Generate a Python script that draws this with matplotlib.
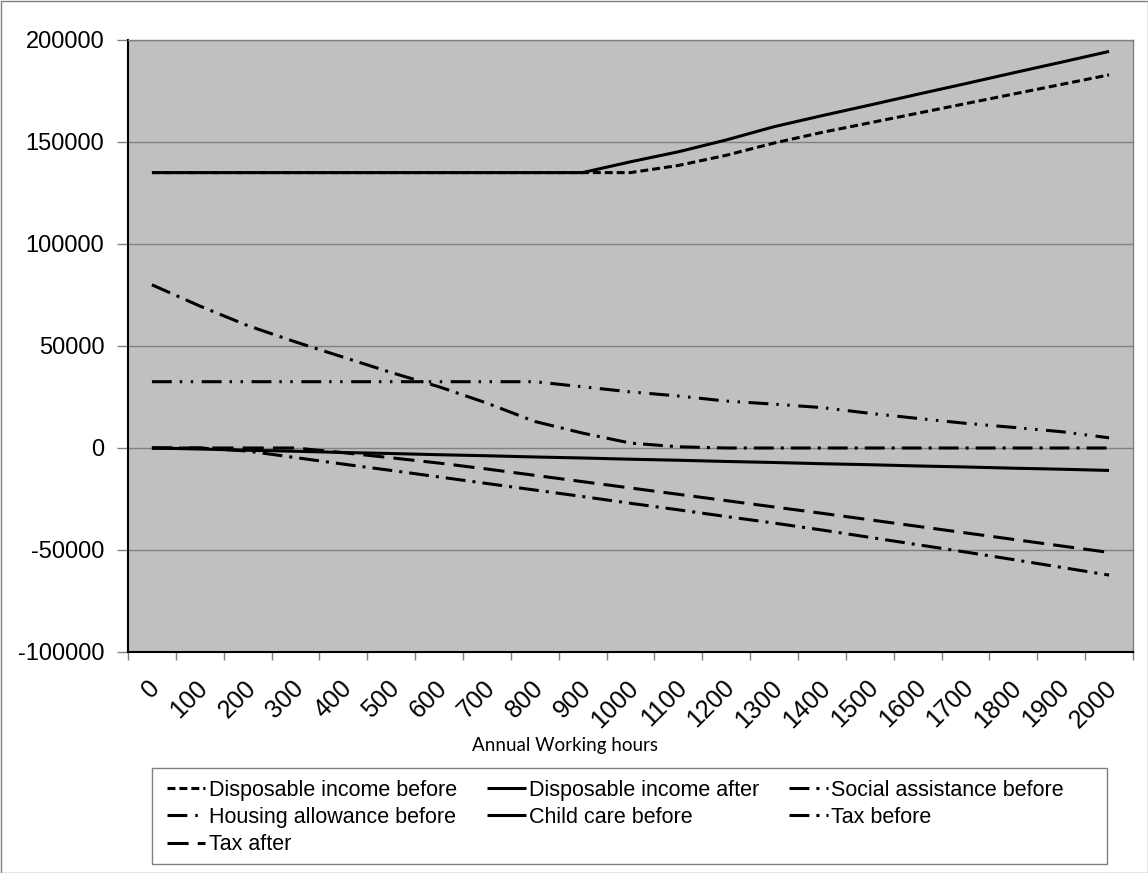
import matplotlib
matplotlib.use("Agg")
import matplotlib.pyplot as plt
from matplotlib.patches import Rectangle
from matplotlib.transforms import ScaledTranslation

plt.rcParams['font.family'] = ['Liberation Sans', 'DejaVu Sans']

# hours on the x axis (categories)
hours = [0, 100, 200, 300, 400, 500, 600, 700, 800, 900, 1000,
         1100, 1200, 1300, 1400, 1500, 1600, 1700, 1800, 1900, 2000]

disp_before = [135000, 135000, 135000, 135000, 135000, 135000, 135000, 135000, 135000, 135000, 135000,
               138500, 143500, 149500, 154700, 159400, 164100, 168800, 173500, 178200, 182900]
disp_after = [135000, 135000, 135000, 135000, 135000, 135000, 135000, 135000, 135000, 135000, 140300,
              145200, 151000, 157500, 162900, 168100, 173400, 178600, 183900, 189100, 194400]
social_before = [80000, 69600, 60000, 52000, 44500, 37000, 30000, 22000, 13000, 7300, 2400,
                 600, 0, 0, 0, 0, 0, 0, 0, 0, 0]
housing_before = [32500, 32500, 32500, 32500, 32500, 32500, 32500, 32500, 32500, 30000, 27500,
                  25500, 23000, 21500, 19800, 17000, 14500, 12100, 10100, 8000, 5000]
childcare_before = [0, -500, -1100, -1600, -2200, -2700, -3300, -3800, -4400, -4900, -5500,
                    -6000, -6600, -7100, -7700, -8200, -8800, -9300, -9900, -10400, -11000]
tax_before = [0, 0, -1500, -4700, -7900, -11000, -14200, -17400, -20600, -23800, -27100,
              -30300, -33600, -36800, -40200, -43800, -47400, -51000, -54700, -58500, -62300]
tax_after = [0, 0, 0, 0, -2300, -4800, -7400, -10300, -13400, -16500, -19600,
             -22700, -25800, -28900, -32000, -35200, -38400, -41600, -44800, -48000, -51200]

series = [
    ("Disposable income before", disp_before, (2.6, 1.3)),
    ("Disposable income after", disp_after, None),
    ("Social assistance before", social_before, (6.5, 2.3, 1.0, 2.3)),
    ("Housing allowance before", housing_before, (6.5, 2.6, 0.8, 2.8, 0.8, 2.8)),
    ("Child care before", childcare_before, None),
    ("Tax before", tax_before, (6.5, 2.3, 1.0, 2.3)),
    ("Tax after", tax_after, (6.9, 3.0)),
]

fig = plt.figure(figsize=(11.48, 8.73), dpi=100)
ax = fig.add_axes([128 / 1148, 1 - 652 / 873, 1005 / 1148, 612 / 873])
ax.set_facecolor('#C0C0C0')

x = list(range(len(hours)))
lines = []
for name, vals, dash in series:
    ln, = ax.plot(x, vals, color='black', lw=2.2, label=name,
                  solid_capstyle='butt', dash_capstyle='butt')
    if dash is not None:
        ln.set_dashes(dash)
    lines.append(ln)

ax.set_xlim(-0.5, len(hours) - 0.5)
ax.set_ylim(-100000, 200000)
ax.set_yticks(range(-100000, 200001, 50000))
ax.set_yticklabels([str(v) for v in range(-100000, 200001, 50000)])
ax.yaxis.grid(True, color='#808080', lw=1.0)
ax.set_axisbelow(True)

ax.set_xticks(x)
ax.set_xticklabels([str(h) for h in hours], rotation=45, ha='right', va='top',
                   rotation_mode='anchor')
ax.set_xticks([i - 0.5 for i in range(len(hours) + 1)], minor=True)
ax.tick_params(axis='x', which='major', length=0, pad=17, labelsize=18)
ax.tick_params(axis='x', which='minor', length=6, width=1, color='#808080', direction='out')
ax.tick_params(axis='y', length=8, width=1, color='#808080', pad=9, labelsize=17)
for lab in ax.get_xticklabels():
    lab.set_transform(lab.get_transform() + ScaledTranslation(-4 / 100, 0, fig.dpi_scale_trans))

for side in ['top', 'right']:
    ax.spines[side].set_color('#808080')
    ax.spines[side].set_linewidth(1)
for side in ['left', 'bottom']:
    ax.spines[side].set_color('black')
    ax.spines[side].set_linewidth(1.5)

fig.text(565 / 1148, 1 - 745 / 873, 'Annual Working hours', family=['Lato', 'DejaVu Sans'],
         fontsize=13.5, ha='center', va='center')

# legend is filled column by column, so reorder to read row by row
order = [0, 3, 6, 1, 4, 2, 5]
leg = fig.legend([lines[i] for i in order], [lines[i].get_label() for i in order],
                 loc='upper left', bbox_to_anchor=(159 / 1148, 1 - 772 / 873),
                 bbox_transform=fig.transFigure, ncol=3, fontsize=15.5,
                 frameon=False, borderaxespad=0, borderpad=0.35,
                 handlelength=1.8, handletextpad=0.15, columnspacing=1.4,
                 labelspacing=0.3)

# legend box and chart border
fig.add_artist(Rectangle((152 / 1148, 1 - 864 / 873), 955 / 1148, 96 / 873,
                         transform=fig.transFigure, fill=False, ec='#808080', lw=1))
fig.add_artist(Rectangle((0.5 / 1148, 0.5 / 873), 1 - 1 / 1148, 1 - 1 / 873,
                         transform=fig.transFigure, fill=False, ec='#808080', lw=1))

fig.savefig('out.png', dpi=100)
